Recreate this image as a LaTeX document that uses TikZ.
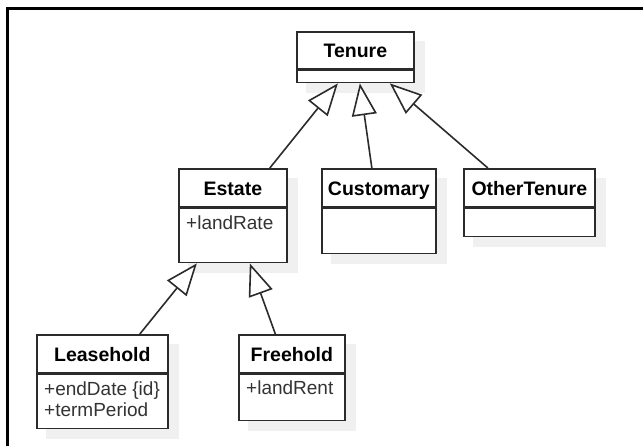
\documentclass[tikz,border=0pt]{standalone}
\usepackage{fontspec}
\setmainfont{Liberation Sans}
\usetikzlibrary{arrows.meta,backgrounds}
\definecolor{ln}{HTML}{2B2B2B}
\definecolor{shd}{HTML}{F0F0F0}
\definecolor{attr}{HTML}{333333}
\tikzset{
  hdr/.style={draw=ln, line width=1.7pt, fill=white, anchor=north west, inner sep=0pt,
    font=\fontsize{19.5}{23}\selectfont\bfseries, minimum height=38pt,
    text height=16.5pt, text depth=2pt},
  bodybox/.style={draw=ln, line width=1.7pt, fill=white, anchor=north west, inner sep=0pt},
  attrtext/.style={anchor=base west, inner sep=0pt, text=attr, font=\fontsize{19}{23}\selectfont},
  gen/.style={draw=ln, line width=1.6pt, -{Triangle[open, length=32pt, width=25pt, fill=white]}},
  shadowbox/.style={fill=shd},
  frameline/.style={draw=black, line width=2.5pt}
}
\begin{document}
\begin{tikzpicture}[x=1pt, y=-1pt]
\useasboundingbox (0,0) rectangle (643,445);
\draw[frameline] (7.5,450) -- (7.5,8.5) -- (650,8.5);

% Tenure
\node[hdr, minimum width=117pt, minimum height=37pt] (ten) at (296,31) {Tenure};
\node[bodybox, minimum width=117pt, minimum height=12pt] (tenb) at (ten.south west) {};
% Estate
\node[hdr, minimum width=108pt] (est) at (178,168) {Estate};
\node[bodybox, minimum width=108pt, minimum height=54pt] (estb) at (est.south west) {};
\node[attrtext] (estA) at ([shift={(8,22)}]estb.north west) {+landRate};
% Customary
\node[hdr, minimum width=114pt] (cus) at (321,168) {Customary};
\node[bodybox, minimum width=114pt, minimum height=45pt] (cusb) at (cus.south west) {};
% OtherTenure
\node[hdr, minimum width=131pt] (oth) at (463,168) {OtherTenure};
\node[bodybox, minimum width=131pt, minimum height=28pt] (othb) at (oth.south west) {};
% Leasehold
\node[hdr, minimum width=131pt] (lea) at (36,334) {Leasehold};
\node[bodybox, minimum width=131pt, minimum height=54pt] (leab) at (lea.south west) {};
\node[attrtext] (leaA) at ([shift={(8,22)}]leab.north west) {+endDate \{id\}};
\node[attrtext] (leaB) at ([shift={(8,43)}]leab.north west) {+termPeriod};
% Freehold
\node[hdr, minimum width=106pt] (fre) at (238,334) {Freehold};
\node[bodybox, minimum width=106pt, minimum height=46pt] (freb) at (fre.south west) {};
\node[attrtext] (freA) at ([shift={(8,21)}]freb.north west) {+landRent};

\begin{scope}[on background layer]
  \foreach \h/\b in {ten/tenb, est/estb, cus/cusb, oth/othb, lea/leab, fre/freb}{
    \fill[shadowbox] ([shift={(10,10)}]\h.north west) rectangle ([shift={(10,10)}]\b.south east);
  }
\end{scope}

% generalizations
\draw[gen] ([xshift=37pt]est.north) -- ([xshift=-17.5pt]tenb.south);
\draw[gen] ([xshift=-7pt]cus.north) -- ([xshift=4.5pt]tenb.south);
\draw[gen] ([xshift=-41.5pt]oth.north) -- ([xshift=34.5pt]tenb.south);
\draw[gen] ([xshift=37.5pt]lea.north) -- ([xshift=-36pt]estb.south);
\draw[gen] ([xshift=-16.5pt]fre.north) -- ([xshift=17pt]estb.south);
\end{tikzpicture}
\end{document}
